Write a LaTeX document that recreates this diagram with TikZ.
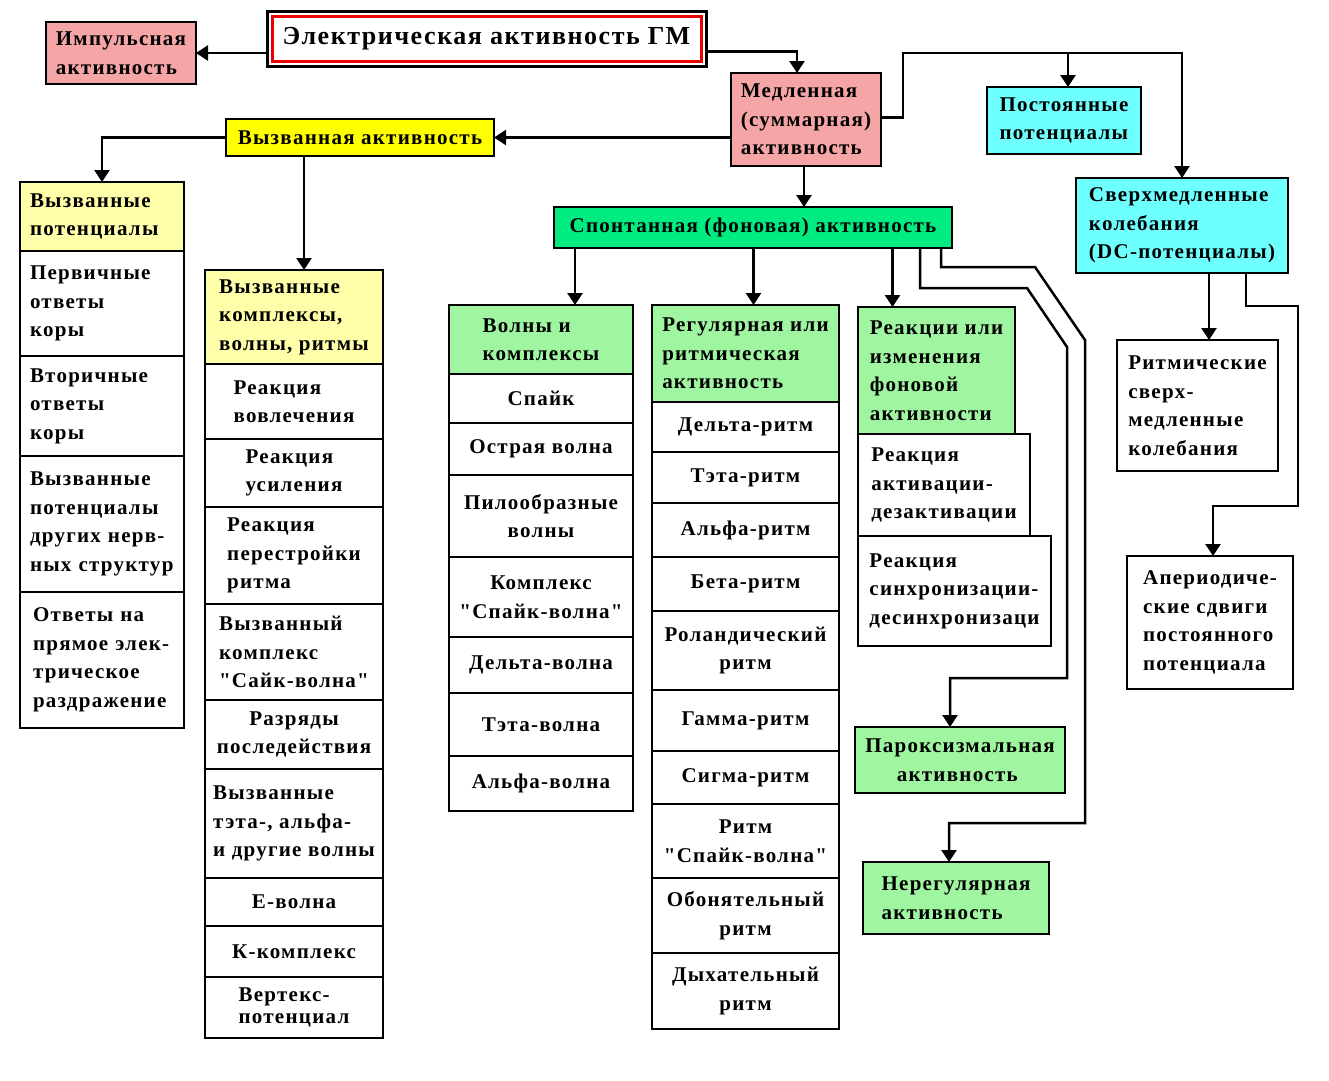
\documentclass[tikz,border=0pt]{standalone}
\usepackage{fontspec}
\setmainfont[LetterSpace=6, Ligatures=TeXOff]{Liberation Serif}
\usetikzlibrary{positioning, arrows.meta}
\definecolor{rose}{RGB}{245, 165, 165}
\definecolor{lemon}{RGB}{255, 255, 0}
\definecolor{cream}{RGB}{255, 255, 170}
\definecolor{aqua}{RGB}{110, 255, 255}
\definecolor{spring}{RGB}{0, 236, 128}
\definecolor{mint}{RGB}{160, 245, 160}
\definecolor{frame}{RGB}{235, 0, 0}

\begin{document}
\begin{tikzpicture}[
    x=1pt, y=-1pt,
    cell/.style={
        draw=black,
        line width=2.5pt,
        fill=white,
        text=black,
        font=\bfseries\fontsize{21}{28.5}\selectfont,
        align=center,
        inner sep=0pt,
        outer sep=0pt,
        node distance=0pt
    },
    lcell/.style={cell, align=left},
    top_style/.style={lcell, anchor=north west},
    colA/.style={minimum width=164pt, text width=144pt},
    colB/.style={minimum width=178pt},
    colC/.style={minimum width=184pt},
    colD/.style={minimum width=187pt},
    wire/.style={line width=2.5pt},
    arr/.style={wire, -{Triangle[width=15pt, length=12pt]}}
]
\useasboundingbox (0,0) rectangle (1329,1080);

\node[cell, anchor=north west, line width=3pt, minimum width=439pt, minimum height=55pt,
    font=\bfseries\fontsize{26}{30}\selectfont] (title) at (267,11) {Электрическая активность ГМ};
\draw[frame, line width=3pt] ([shift={(5pt,-5pt)}]title.north west) rectangle ([shift={(-5pt,5pt)}]title.south east);

\node[top_style, fill=rose, minimum width=150pt, minimum height=62pt] (imp) at (46,22) {Импульсная\\активность};
\node[top_style, fill=rose, minimum width=150pt, minimum height=93pt] (med) at (731,73) {Медленная\\(суммарная)\\активность};
\node[top_style, fill=aqua, minimum width=154pt, minimum height=67pt] (post) at (987,87) {Постоянные\\потенциалы};
\node[top_style, fill=aqua, minimum width=212pt, minimum height=95pt] (sv) at (1076,178) {Сверхмедленные\\колебания\\(DC-потенциалы)};
\node[top_style, fill=lemon, minimum width=268pt, minimum height=37pt] (vyz) at (226,119) {Вызванная активность};
\node[top_style, fill=spring, minimum width=398pt, minimum height=41pt] (spont) at (554,207) {Спонтанная (фоновая) активность};

% evoked potentials
\node[top_style, colA, fill=cream, minimum height=69pt] (vp) at (20,182) {Вызванные\\потенциалы};
\node[lcell, colA, below=of vp, minimum height=105pt] (vp1) {Первичные\\ответы\\коры};
\node[lcell, colA, below=of vp1, minimum height=100pt] (vp2) {Вторичные\\ответы\\коры};
\node[lcell, colA, below=of vp2, minimum height=136pt] (vp3) {Вызванные\\потенциалы\\других нерв-\\ных структур};
\node[lcell, colA, below=of vp3, minimum height=136pt] (vp4) {\hspace*{3pt}Ответы на\\\hspace*{3pt}прямое элек-\\\hspace*{3pt}трическое\\\hspace*{3pt}раздражение};

% evoked complexes
\node[top_style, colB, fill=cream, minimum height=94pt] (vk) at (205,270) {Вызванные\\комплексы,\\волны, ритмы};
\node[lcell, colB, below=of vk, minimum height=75pt] (vk1) {Реакция\\вовлечения};
\node[lcell, colB, below=of vk1, minimum height=68pt] (vk2) {Реакция\\усиления};
\node[lcell, colB, below=of vk2, minimum height=97pt] (vk3) {Реакция\\перестройки\\ритма};
\node[lcell, colB, below=of vk3, minimum height=96pt] (vk4) {Вызванный\\комплекс\\"Сайк-волна"};
\node[cell, colB, below=of vk4, minimum height=69pt] (vk5) {Разряды\\последействия};
\node[lcell, colB, below=of vk5, minimum height=109pt] (vk6) {Вызванные\\тэта-, альфа-\\и другие волны};
\node[cell, colB, below=of vk6, minimum height=48pt] (vk7) {Е-волна};
\node[cell, colB, below=of vk7, minimum height=51pt] (vk8) {К-комплекс};
\node[lcell, colB, below=of vk8, minimum height=61pt, font=\bfseries\fontsize{21}{22}\selectfont] (vk9) {Вертекс-\\потенциал};

% waves and complexes
\node[top_style, colC, fill=mint, minimum height=69pt] (wv) at (449,305) {Волны и\\комплексы};
\node[cell, colC, below=of wv, minimum height=49pt] (wv1) {Спайк};
\node[cell, colC, below=of wv1, minimum height=52pt] (wv2) {Острая волна};
\node[cell, colC, below=of wv2, minimum height=82pt] (wv3) {Пилообразные\\волны};
\node[cell, colC, below=of wv3, minimum height=80pt] (wv4) {Комплекс\\"Спайк-волна"};
\node[cell, colC, below=of wv4, minimum height=56pt] (wv5) {Дельта-волна};
\node[cell, colC, below=of wv5, minimum height=63pt] (wv6) {Тэта-волна};
\node[cell, colC, below=of wv6, minimum height=55pt] (wv7) {Альфа-волна};

% regular rhythms
\node[top_style, colD, fill=mint, minimum height=97pt] (rg) at (652,305) {Регулярная или\\ритмическая\\активность};
\node[cell, colD, below=of rg, minimum height=50pt] (rg1) {Дельта-ритм};
\node[cell, colD, below=of rg1, minimum height=51pt] (rg2) {Тэта-ритм};
\node[cell, colD, below=of rg2, minimum height=54pt] (rg3) {Альфа-ритм};
\node[cell, colD, below=of rg3, minimum height=54pt] (rg4) {Бета-ритм};
\node[cell, colD, below=of rg4, minimum height=79pt] (rg5) {Роландический\\ритм};
\node[cell, colD, below=of rg5, minimum height=61pt] (rg6) {Гамма-ритм};
\node[cell, colD, below=of rg6, minimum height=53pt] (rg7) {Сигма-ритм};
\node[cell, colD, below=of rg7, minimum height=74pt] (rg8) {Ритм\\"Спайк-волна"};
\node[cell, colD, below=of rg8, minimum height=75pt] (rg9) {Обонятельный\\ритм};
\node[cell, colD, below=of rg9, minimum height=76pt] (rg10) {Дыхательный\\ритм};

% reactions
\node[top_style, fill=mint, minimum width=157pt, minimum height=127pt] (rc) at (858,307) {Реакции или\\изменения\\фоновой\\активности};
\node[top_style, minimum width=172pt, minimum height=102pt] (rc1) at (rc.south west) {Реакция\\активации-\\дезактивации};
\node[top_style, minimum width=193pt, minimum height=110pt] (rc2) at (rc1.south west) {Реакция\\синхронизации-\\десинхронизаци};

\node[top_style, fill=mint, minimum width=210pt, minimum height=66pt] (px) at (855,727) {Пароксизмальная\\\hspace*{1.5em}активность};
\node[top_style, fill=mint, minimum width=186pt, minimum height=72pt] (nr) at (863,862) {Нерегулярная\\активность};

\node[top_style, minimum width=161pt, minimum height=131pt] (rt) at (1117,340) {Ритмические\\сверх-\\медленные\\колебания};
\node[top_style, minimum width=166pt, minimum height=133pt] (ap) at (1127,556) {Апериодиче-\\ские сдвиги\\постоянного\\потенциала};

% connectors
\coordinate (bus) at (903,53);
\coordinate (p1) at (1027,288);
\coordinate (p2) at (1067,347);
\coordinate (p3) at (1067,678);
\coordinate (q1) at (1035,267);
\coordinate (q2) at (1085,340);
\coordinate (q3) at (1085,823);
\coordinate (r1) at (1298,306);
\coordinate (r2) at (1298,506);

\draw[arr] (title.west |- imp.east) -- (imp.east);
\draw[arr] ([yshift=-13pt]title.east) -| ([xshift=-9pt]med.north);
\draw[arr] (med.west |- vyz.east) -- (vyz.east);
\draw[arr] (vyz.west) -| (vp.north);
\draw[arr] ([xshift=10pt]vk.north |- vyz.south) -- ([xshift=10pt]vk.north);
\draw[arr] ([xshift=-2pt]med.south) -- ([xshift=-2pt]med.south |- spont.north);
\draw[arr] ([yshift=2pt]med.east) -| (bus) -| (sv.north);
\draw[arr] ([xshift=4pt]post.north |- bus) -- ([xshift=4pt]post.north);

\draw[arr] ([xshift=34pt]wv.north |- spont.south) -- ([xshift=34pt]wv.north);
\draw[arr] ([xshift=8pt]rg.north |- spont.south) -- ([xshift=8pt]rg.north);
\draw[arr] ([xshift=-44pt]rc.north |- spont.south) -- ([xshift=-44pt]rc.north);
\draw[arr] ([xshift=-32pt]spont.south east) |- (p1) -- (p2) -- (p3) -| ([xshift=-10pt]px.north);
\draw[arr] ([xshift=-11pt]spont.south east) |- (q1) -- (q2) -- (q3) -| ([xshift=-7pt]nr.north);

\draw[arr] ([xshift=27pt]sv.south) -- ([xshift=27pt]sv.south |- rt.north);
\draw[arr] ([xshift=64pt]sv.south) |- (r1) -- (r2) -| ([xshift=3pt]ap.north);

\end{tikzpicture}
\end{document}
